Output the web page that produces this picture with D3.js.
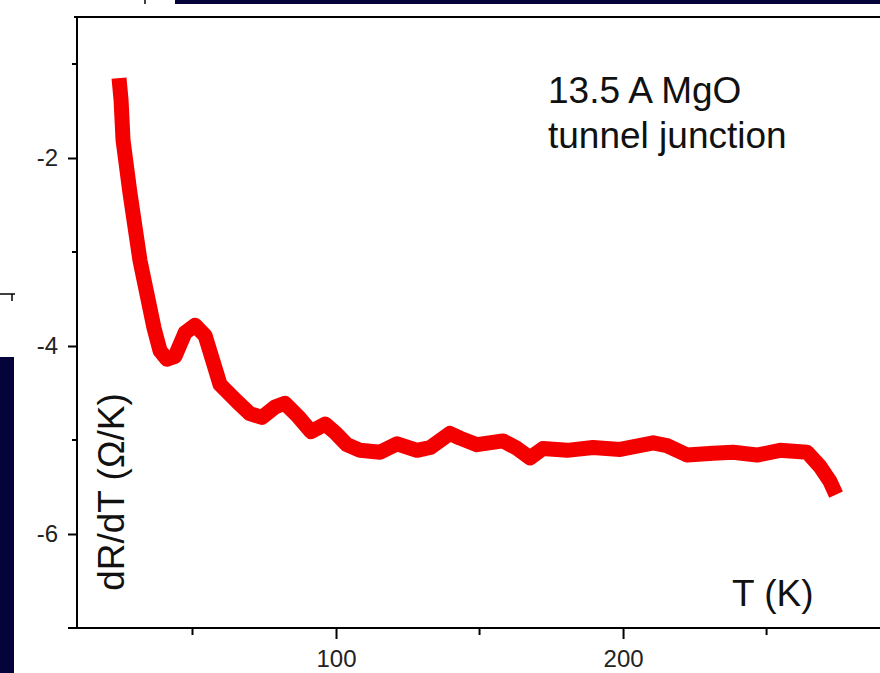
<!DOCTYPE html>
<html>
<head>
<meta charset="utf-8">
<script src="https://cdn.jsdelivr.net/npm/d3@7"></script>
<style>
  body { margin: 0; background: #fff; }
  svg { display: block; font-family: "Liberation Sans", Arial, sans-serif; }
</style>
</head>
<body>
<div id="plot"></div>
<script>
// temperature (K) and dR/dT (Ohm/K)
var temps = [24.4, 25.1, 25.8, 28.2, 31.7, 36.6, 38.7, 41.1, 43.9, 47.4, 50.9, 54.4,
  59.6, 65.5, 70.0, 74.2, 78.7, 82.2, 86.8, 91.3, 96.2, 100, 103.8, 108.4, 115.3,
  121.3, 128.2, 132.8, 139.7, 143.2, 149.1, 158.2, 163.1, 167.6, 172.1, 180.5,
  189.5, 199, 210.5, 215.3, 222.3, 231.4, 238.3, 246.7, 254.7, 264.1, 268.6,
  272.1, 274.2];
var dRdT = [-1.15, -1.38, -1.81, -2.37, -3.09, -3.81, -4.05, -4.14, -4.11, -3.86,
  -3.78, -3.89, -4.41, -4.59, -4.72, -4.76, -4.65, -4.61, -4.75, -4.91, -4.83,
  -4.93, -5.05, -5.11, -5.13, -5.04, -5.11, -5.08, -4.93, -4.98, -5.05, -5.01,
  -5.09, -5.19, -5.09, -5.11, -5.08, -5.10, -5.03, -5.06, -5.16, -5.14, -5.13,
  -5.16, -5.11, -5.13, -5.28, -5.44, -5.58];

var xMajor = [100, 200];
var xMinor = [50, 150, 250];
var yMajor = [-2, -4, -6];
var yMinor = [-1, -3, -5];
var noteLines = ["13.5 A MgO", "tunnel junction"];

var width = 880;
var height = 673;
var navy = "#05043a";

var x = d3.scaleLinear().domain([9.76, 293]).range([77, 890]);
var y = d3.scaleLinear().domain([-7, -0.5]).range([628, 17]);

var svg = d3.select("div#plot")
  .append("svg")
  .attr("width", width)
  .attr("height", height);

// bits of the slide around the plot
svg.append("rect").attr("x", 175).attr("y", 0).attr("width", 705).attr("height", 4).style("fill", navy);
svg.append("rect").attr("x", 0).attr("y", 357).attr("width", 14).attr("height", 316).style("fill", navy);
svg.append("line").attr("x1", 145).attr("x2", 145).attr("y1", 0).attr("y2", 4)
  .style("stroke", "#000").style("stroke-width", 1.5);
svg.append("line").attr("x1", 0).attr("x2", 15).attr("y1", 294).attr("y2", 294)
  .style("stroke", "#000").style("stroke-width", 1.5);
svg.append("line").attr("x1", 12).attr("x2", 12).attr("y1", 294).attr("y2", 301)
  .style("stroke", "#000").style("stroke-width", 1.5);

// frame
svg.append("line").attr("x1", 74).attr("x2", 890).attr("y1", y(-0.5)).attr("y2", y(-0.5))
  .style("stroke", "#000").style("stroke-width", 2);

var fmt = function(d){ return String(d); };

// x axis
var xAxis = d3.axisBottom(x).tickValues(xMajor).tickFormat(fmt)
  .tickSize(11).tickPadding(11).tickSizeOuter(0);
var gx = svg.append("g")
  .attr("transform", "translate(0," + y(-7) + ")")
  .call(xAxis);
gx.select(".domain").remove();
gx.append("line").attr("x1", 68).attr("x2", 890).attr("y1", 0).attr("y2", 0)
  .style("stroke", "#000").style("stroke-width", 2);
gx.selectAll(".tick line").style("stroke-width", 2);
gx.selectAll(".tick text").style("font-size", "24px").style("fill", "#222")
  .style("font-family", "Liberation Sans, Arial, sans-serif");
gx.selectAll(".minor").data(xMinor).enter().append("line")
  .attr("x1", function(d){ return x(d); })
  .attr("x2", function(d){ return x(d); })
  .attr("y1", 0).attr("y2", 7)
  .style("stroke", "#000").style("stroke-width", 2);

// y axis
var yAxis = d3.axisLeft(y).tickValues(yMajor).tickFormat(fmt)
  .tickSize(9).tickPadding(10).tickSizeOuter(0);
var gy = svg.append("g")
  .attr("transform", "translate(" + x(9.76) + ",0)")
  .call(yAxis);
gy.select(".domain").remove();
gy.append("line").attr("x1", 0).attr("x2", 0).attr("y1", y(-0.5)).attr("y2", y(-7))
  .style("stroke", "#000").style("stroke-width", 2);
gy.selectAll(".tick line").style("stroke-width", 2);
gy.selectAll(".tick text").style("font-size", "24px").style("fill", "#222")
  .style("font-family", "Liberation Sans, Arial, sans-serif");
gy.selectAll(".minor").data(yMinor).enter().append("line")
  .attr("x1", -5).attr("x2", 0)
  .attr("y1", function(d){ return y(d); })
  .attr("y2", function(d){ return y(d); })
  .style("stroke", "#000").style("stroke-width", 2);

// the curve
var pts = temps.map(function(t, i){ return [t, dRdT[i]]; });
var line = d3.line()
  .x(function(d){ return x(d[0]); })
  .y(function(d){ return y(d[1]); });

svg.append("path")
  .datum(pts)
  .attr("d", line)
  .style("fill", "none")
  .style("stroke", "#f40000")
  .style("stroke-width", 15)
  .style("stroke-linejoin", "round");

// labels
svg.append("text")
  .attr("transform", "translate(124,492) rotate(-90)")
  .attr("text-anchor", "middle")
  .style("font-size", "37px")
  .style("fill", "#111")
  .text("dR/dT (\u03A9/K)");

svg.append("text")
  .attr("x", 732).attr("y", 606)
  .style("font-size", "37px")
  .style("fill", "#111")
  .text("T (K)");

svg.selectAll(".note").data(noteLines).enter().append("text")
  .attr("x", 548)
  .attr("y", function(d, i){ return 103 + i * 45; })
  .style("font-size", "37px")
  .style("fill", "#111")
  .text(function(d){ return d; });
</script>
</body>
</html>
